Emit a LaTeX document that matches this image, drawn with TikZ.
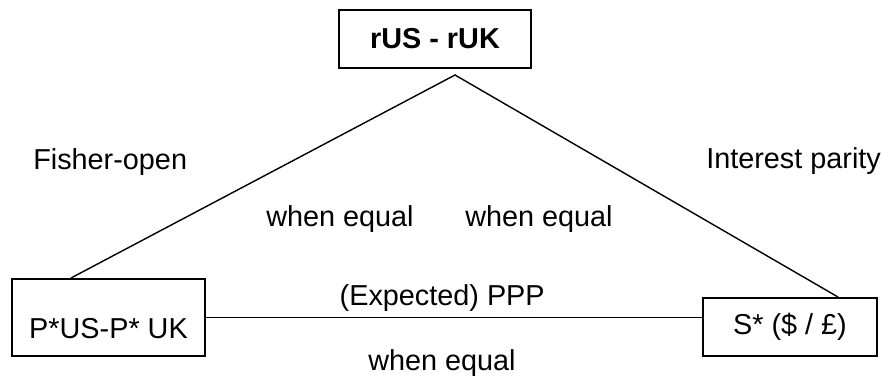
\documentclass[tikz,border=0pt]{standalone}
\usepackage{fontspec}
\setmainfont{Liberation Sans}
\usepackage{tikz}

\tikzset{
	lbl/.style={font=\fontsize{20.5pt}{24pt}\selectfont, inner sep=0pt},
	quantbox/.style={draw, line width=1.2pt, lbl, inner ysep=0pt}
}

\begin{document}
\begin{tikzpicture}
				\useasboundingbox (0,0) rectangle (22.075,9.4);
				% the three quantities
				\node[quantbox, minimum width=4.8cm, minimum height=1.45cm] (rates) at (10.875,8.425) {\textbf{rUS - rUK}};
				\node[quantbox, minimum width=4.825cm, text height=1.475cm, text depth=0.45cm] (prices) at (2.7125,1.4625) {P*US-P* UK};
				\node[quantbox, minimum width=4.35cm, minimum height=1.45cm] (spot) at (19.75,1.225) {S* (\$ / £)};
				
				\coordinate (apex) at (11.375,7.525);
				\coordinate (leftend) at (1.775,2.45);
				\coordinate (rightend) at (20.95,1.975);
				\draw[line width=1pt] (leftend) -- (apex) -- (rightend);
				\draw[line width=1pt] (prices.east) -- (prices.east -| spot.west);
				
				% labels
				\node[lbl, anchor=base west] (fisher) at (0.825,5.175) {Fisher-open};
				\node[lbl, anchor=base west] (parity) at (17.65,5.2) {Interest parity};
				\node[lbl, anchor=base west] (eqleft) at (6.65,3.75) {when equal};
				\node[lbl, anchor=base west] (eqright) at (11.625,3.75) {when equal};
				\node[lbl, anchor=base east] (ppp) at (13.625,1.775) {(Expected) PPP};
				\node[lbl, anchor=base west] (eqbottom) at (9.2,0.15) {when equal};
			\end{tikzpicture}
\end{document}
